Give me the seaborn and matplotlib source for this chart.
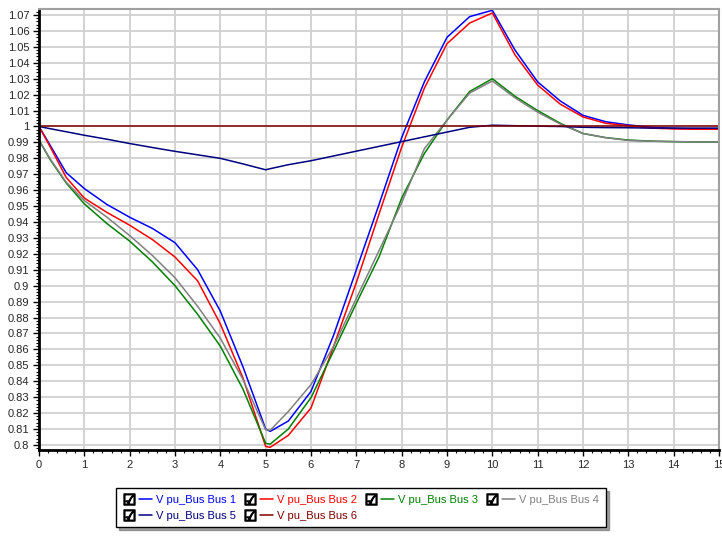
import pandas as pd
import matplotlib.pyplot as plt
import seaborn as sns
from matplotlib.lines import Line2D
from matplotlib.legend_handler import HandlerTuple
from matplotlib.ticker import MultipleLocator, FuncFormatter

# time axis (s) and per-unit voltages
time = [0, 0.25, 0.6, 1, 1.5, 2, 2.5, 3, 3.5, 4, 4.5, 5, 5.1, 5.5, 6, 6.5, 7, 7.5,
        8, 8.5, 9, 9.5, 10, 10.5, 11, 11.5, 12, 12.5, 13, 13.5, 14, 14.5, 15]

bus1 = [1.0, 0.988, 0.971, 0.961, 0.951, 0.943, 0.936, 0.927, 0.910, 0.884, 0.849, 0.810,
        0.8085, 0.815, 0.8336, 0.869, 0.910, 0.951, 0.993, 1.028, 1.056, 1.069, 1.073,
        1.048, 1.028, 1.016, 1.007, 1.003, 1.001, 0.9995, 0.9988, 0.9985, 0.9985]
bus2 = [1.0, 0.987, 0.968, 0.955, 0.946, 0.938, 0.929, 0.918, 0.903, 0.876, 0.842, 0.799,
        0.7985, 0.806, 0.8232, 0.862, 0.902, 0.945, 0.987, 1.024, 1.052, 1.065, 1.0713,
        1.045, 1.026, 1.014, 1.006, 1.002, 1.0005, 0.999, 0.9985, 0.9983, 0.9983]
bus3 = [0.9914, 0.979, 0.9645, 0.9514, 0.939, 0.928, 0.915, 0.900, 0.882, 0.862, 0.835, 0.801,
        0.8005, 0.810, 0.8297, 0.859, 0.889, 0.918, 0.955, 0.983, 1.004, 1.022, 1.030,
        1.019, 1.010, 1.002, 0.9956, 0.993, 0.9915, 0.9908, 0.9905, 0.9903, 0.9903]
bus4 = [0.9914, 0.9795, 0.965, 0.9535, 0.943, 0.9315, 0.919, 0.905, 0.887, 0.867, 0.841, 0.8095,
        0.8092, 0.821, 0.8379, 0.862, 0.892, 0.922, 0.952, 0.986, 1.004, 1.021, 1.0286,
        1.018, 1.009, 1.0015, 0.9956, 0.993, 0.9912, 0.9908, 0.9905, 0.9903, 0.9903]
bus5 = [1.0, 0.9986, 0.9967, 0.9945, 0.992, 0.9893, 0.9868, 0.9844, 0.9822, 0.980, 0.9765, 0.9728,
        0.9735, 0.976, 0.9785, 0.9815, 0.9845, 0.9875, 0.9905, 0.9935, 0.9965, 0.9995, 1.0008,
        1.0005, 1.0002, 1.0, 0.9995, 0.9993, 0.9992, 0.999, 0.999, 0.999, 0.999]
bus6 = [1.0] * len(time)

names = ["V pu_Bus Bus 1", "V pu_Bus Bus 2", "V pu_Bus Bus 3",
         "V pu_Bus Bus 4", "V pu_Bus Bus 5", "V pu_Bus Bus 6"]
colors = ["#0000ff", "#ff0000", "#008000", "#808080", "#000080", "#800000"]

y_ticks = [0.8, 0.81, 0.82, 0.83, 0.84, 0.85, 0.86, 0.87, 0.88, 0.89, 0.9, 0.91, 0.92, 0.93,
           0.94, 0.95, 0.96, 0.97, 0.98, 0.99, 1.0, 1.01, 1.02, 1.03, 1.04, 1.05, 1.06, 1.07]
x_ticks = list(range(0, 16))

frames = []
for name, vals in zip(names, [bus1, bus2, bus3, bus4, bus5, bus6]):
    frames.append(pd.DataFrame({"t": time, "v": vals, "bus": name}))
df = pd.concat(frames, ignore_index=True)

sns.set_theme(style="white")
plt.rcParams['font.family'] = ['Liberation Sans', 'DejaVu Sans']

W, H = 722, 538
fig = plt.figure(figsize=(W / 100, H / 100), dpi=100)
ax = fig.add_axes([39 / W, 1 - 450 / H, (719 - 39) / W, (450 - 9) / H])

sns.lineplot(data=df, x="t", y="v", hue="bus", palette=dict(zip(names, colors)),
             hue_order=names, linewidth=1.1, estimator=None, sort=False, legend=False, ax=ax)

ax.set_xlim(0, 15)
ax.set_ylim(0.7968, 1.0738)
ax.set_xticks(x_ticks)
ax.set_yticks(y_ticks)
ax.xaxis.set_minor_locator(MultipleLocator(0.2))
ax.yaxis.set_minor_locator(MultipleLocator(0.002))
ax.yaxis.set_major_formatter(FuncFormatter(lambda v, p: f"{v:g}"))
ax.set_xlabel("")
ax.set_ylabel("")
ax.tick_params(which="major", direction="out", length=4, width=1, color="black",
               labelsize=8, pad=3, left=True, bottom=True)
ax.tick_params(which="minor", direction="out", length=2, width=0.8, color="black",
               left=True, bottom=True)
ax.grid(True, which="major", color="#d0d0d0", linewidth=1.3)
ax.set_axisbelow(True)

for side in ["left", "bottom"]:
    ax.spines[side].set_color("black")
    ax.spines[side].set_linewidth(2)
for side in ["top", "right"]:
    ax.spines[side].set_color("#a0a0a0")
    ax.spines[side].set_linewidth(1.5)

# legend with checkbox glyph next to each line
handles = []
for c in colors:
    box = Line2D([], [], marker="$\u2611$", markersize=8, color="black", linestyle="none")
    ln = Line2D([], [], color=c, linewidth=1.1)
    handles.append((box, ln))

order = [0, 4, 1, 5, 2, 3]
leg = fig.legend([handles[i] for i in order], [names[i] for i in order],
                 handler_map={tuple: HandlerTuple(ndivide=None, pad=0.3)},
                 loc="upper left", bbox_to_anchor=(116 / W, 1 - 488 / H),
                 ncol=4, fontsize=8, handlelength=2.6, handletextpad=0.4,
                 columnspacing=0.7, labelspacing=0.55, borderpad=0.6, borderaxespad=0,
                 frameon=True, fancybox=False, shadow=True)
leg.get_frame().set_edgecolor("black")
leg.get_frame().set_linewidth(1)
for txt, i in zip(leg.get_texts(), order):
    txt.set_color(colors[i])

fig.savefig("out.png", dpi=100)
